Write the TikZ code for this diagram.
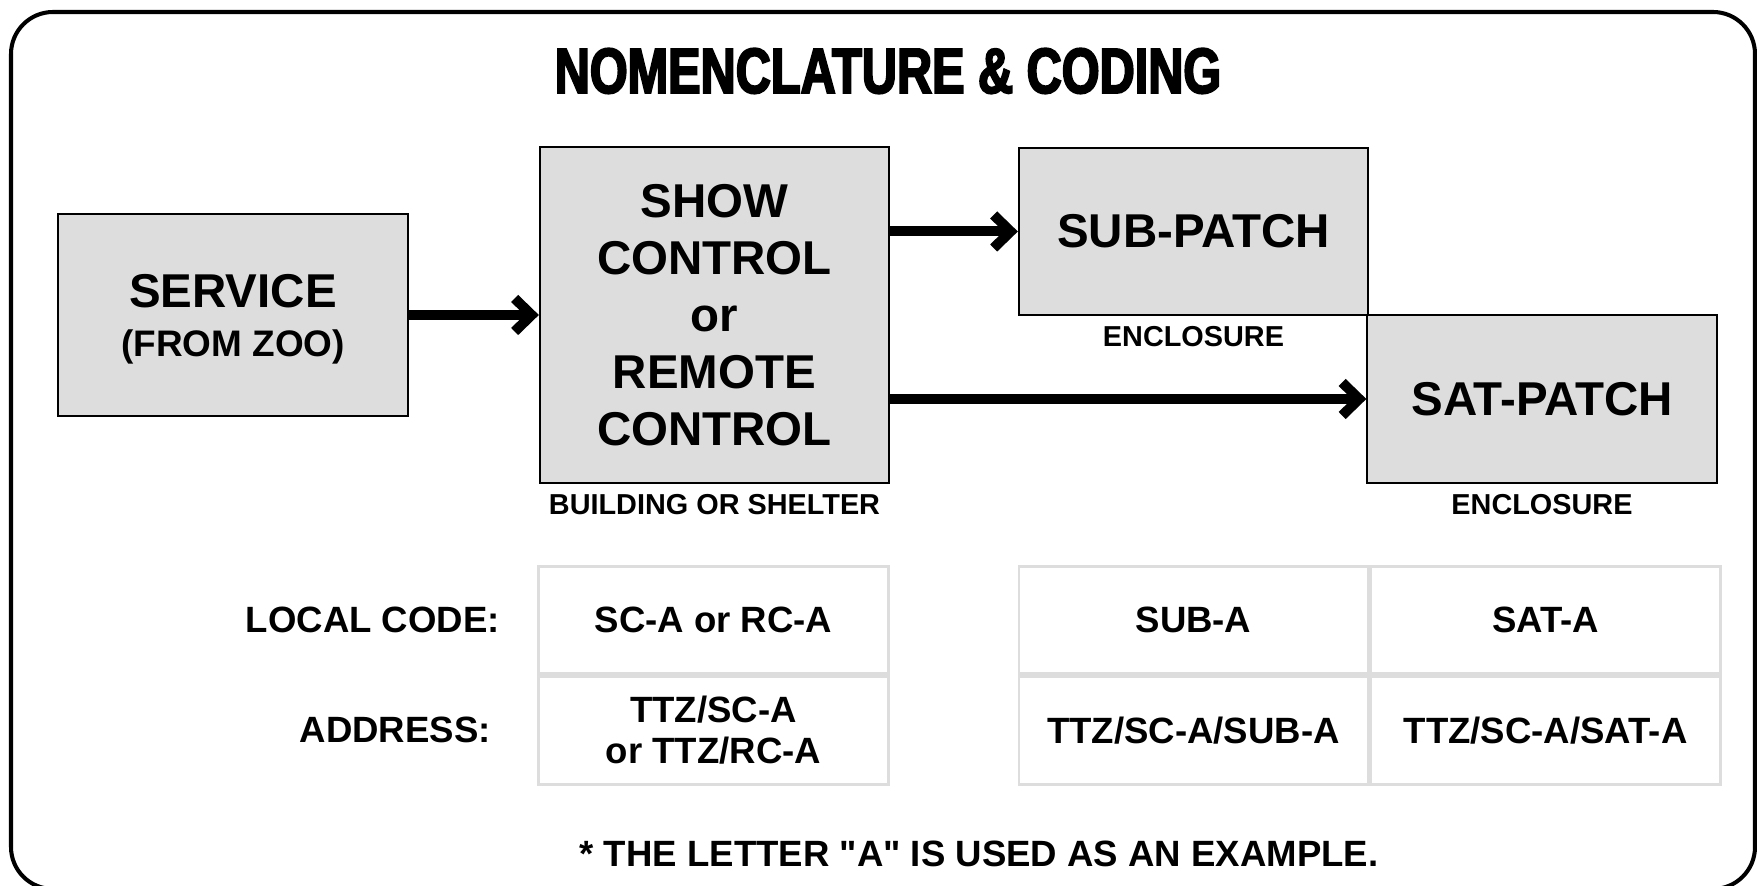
\documentclass[tikz,border=0pt]{standalone}
\usepackage{fontspec}
\setmainfont{Liberation Sans}
\newfontfamily\titlefont[FakeStretch=0.76,BoldFeatures={FakeBold=3}]{Liberation Sans}
\usetikzlibrary{arrows.meta,positioning}
\definecolor{boxgray}{HTML}{DDDDDD}
\definecolor{gridgray}{HTML}{DDDDDD}
\tikzset{
    boxnode/.style={draw=black,line width=0.6pt,fill=boxgray,align=center,inner sep=0pt,minimum width=3.49cm,font=\fontsize{13.5}{16.2}\selectfont\bfseries},
    cellnode/.style={draw=gridgray,line width=0.8pt,align=center,inner sep=0pt,minimum width=3.49cm,minimum height=1.075cm,font=\fontsize{10.4}{11.7}\selectfont\bfseries},
    rowlabel/.style={inner sep=0pt,font=\fontsize{10.4}{11.7}\selectfont\bfseries},
    undercap/.style={inner sep=0pt,font=\fontsize{8.2}{10}\selectfont\bfseries},
    flow/.style={line width=1mm,-{Straight Barb[length=1.7mm,width=3.3mm]}}
}
\begin{document}
\begin{tikzpicture}[x=0.01cm,y=-0.01cm]
\useasboundingbox (0,0) rectangle (1757,886);
\draw[line width=1.15pt,rounded corners=0.42cm] (11,12) rectangle (1755,889);

\node[inner sep=0pt,font=\titlefont\bfseries\fontsize{18.2}{20}\selectfont] (TT) at (888,71) {NOMENCLATURE \& CODING};

% boxes
\node[boxnode,minimum height=2.02cm,text depth=0pt] (SV) at (233,315) {SERVICE\\[-0.08cm]{\fontsize{10.5}{12}\selectfont (FROM ZOO)}};
\node[boxnode,minimum height=3.36cm] (SC) at (714.5,315) {SHOW\\CONTROL\\or\\REMOTE\\CONTROL};
\node[boxnode,minimum height=1.67cm] (SUB) at (1193.5,231.5) {SUB-PATCH};
\node[boxnode,minimum height=1.68cm] (SAT) at (1542,399) {SAT-PATCH};

\node[undercap,below=0.1cm of SC]  (BS)  {BUILDING OR SHELTER};
\node[undercap,below=0.1cm of SUB] (EN1) {ENCLOSURE};
\node[undercap,below=0.1cm of SAT] (EN2) {ENCLOSURE};

% codes
\node[cellnode] (LC1) at (713.5,620) {SC-A or RC-A};
\node[cellnode,below=0pt of LC1] (AD1) {TTZ/SC-A\\or TTZ/RC-A};
\node[cellnode] (LC2) at (1193.5,620) {SUB-A};
\node[cellnode,right=0pt of LC2] (LC3) {SAT-A};
\node[cellnode,below=0pt of LC2] (AD2) {TTZ/SC-A/SUB-A};
\node[cellnode,below=0pt of LC3] (AD3) {TTZ/SC-A/SAT-A};

\node[rowlabel,left=0.37cm of LC1] (LCL) {LOCAL CODE:};
\node[rowlabel,left=0.46cm of AD1] (ADL) {ADDRESS:};

\node[rowlabel] (FN) at (979,854) {* THE LETTER \textquotedbl A\textquotedbl{} IS USED AS AN EXAMPLE.};

\path[flow]
(SV) edge (SC)
(SC.east |- SUB) edge (SUB)
(SC.east |- SAT) edge (SAT)
;
\end{tikzpicture}
\end{document}
